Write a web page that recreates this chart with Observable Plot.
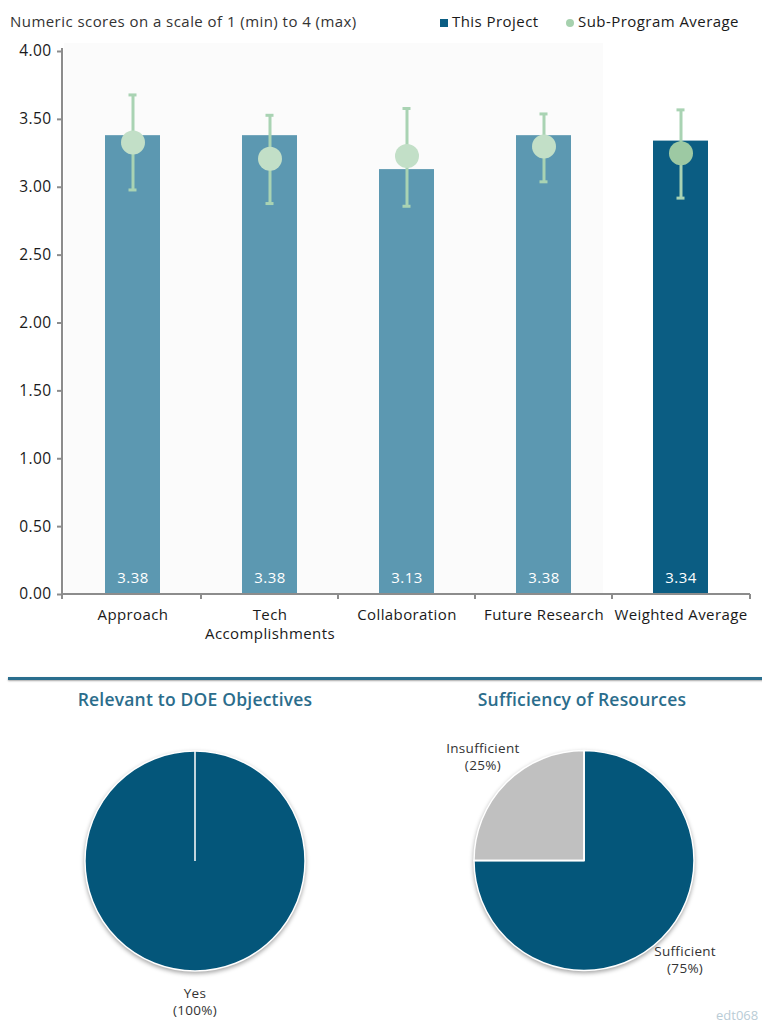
<!DOCTYPE html>
<html><head><meta charset="utf-8">
<script src="https://cdn.jsdelivr.net/npm/d3@7"></script>
<script src="https://cdn.jsdelivr.net/npm/@observablehq/plot@0.6"></script>
<style>
body{margin:0;background:#fff;font-family:"Open Sans",sans-serif;}
#page{position:relative;width:762px;height:1028px;overflow:hidden;background:#fff;}
.abs{position:absolute;white-space:nowrap;}
.ptitle{font-size:17.5px;font-weight:600;color:#2b6d8c;transform:translateX(-50%);letter-spacing:0.2px;}
</style></head><body><div id="page"></div>
<script>
// ---- data ----
const categories = ["Approach", "Tech Accomplishments", "Collaboration", "Future Research", "Weighted Average"];
const categoryAxisLabels = ["Approach", "Tech\nAccomplishments", "Collaboration", "Future Research", "Weighted Average"];
const projectScores = [3.38, 3.38, 3.13, 3.38, 3.34];
const subProgramAverage = [3.33, 3.21, 3.23, 3.30, 3.25];
const subProgramMin = [2.98, 2.88, 2.86, 3.04, 2.92];
const subProgramMax = [3.68, 3.53, 3.58, 3.54, 3.57];
const yTicks = [0, 0.5, 1, 1.5, 2, 2.5, 3, 3.5, 4];
const relevanceLabels = ["Yes"];
const relevanceValues = [100];
const sufficiencyLabels = ["Sufficient", "Insufficient"];
const sufficiencyValues = [75, 25];

const page = document.getElementById("page");
const FONT = "Open Sans, sans-serif";

const rows = categories.map((c, i) => ({
  category: c, score: projectScores[i], avg: subProgramAverage[i],
  lo: subProgramMin[i], hi: subProgramMax[i], weighted: c === "Weighted Average"
}));

function bandEdges(scales, dims) {
  const sx = scales.x;
  const bw = typeof sx.bandwidth === "function" ? sx.bandwidth() : 0;
  const x0 = dims.marginLeft, x1 = dims.width - dims.marginRight;
  const edges = [x0];
  for (let i = 1; i < categories.length; i++) edges.push((sx(categories[i - 1]) + bw + sx(categories[i])) / 2);
  edges.push(x1);
  return edges;
}
// subtle plot-area background
function axisFrame(index, scales, values, dims) {
  const sy = scales.y;
  const edges = bandEdges(scales, dims);
  const x0 = dims.marginLeft, yb = sy(0), yt = sy(4);
  const g = d3.create("svg:g");
  g.append("rect").attr("x", x0 + 2).attr("y", yt - 8)
    .attr("width", edges[edges.length - 2] - 9 - x0 - 2).attr("height", yb - yt + 8)
    .attr("fill", "#fbfbfb");
  return g.node();
}
// axis lines and category boundary ticks
function axisLines(index, scales, values, dims) {
  const sy = scales.y;
  const edges = bandEdges(scales, dims);
  const x0 = dims.marginLeft, x1 = dims.width - dims.marginRight;
  const yb = sy(0), yt = sy(4);
  const g = d3.create("svg:g").attr("stroke", "#8c8c8c").attr("stroke-width", 2);
  g.append("line").attr("x1", x0).attr("x2", x0).attr("y1", yt - 3).attr("y2", yb);
  g.append("line").attr("x1", x0 - 1).attr("x2", x1).attr("y1", yb).attr("y2", yb);
  for (const e of edges) g.append("line").attr("x1", e).attr("x2", e).attr("y1", yb).attr("y2", yb + 5);
  return g.node();
}

const barChart = Plot.plot({
  width: 762, height: 650,
  marginTop: 51, marginBottom: 56, marginLeft: 62, marginRight: 12,
  style: {fontFamily: FONT, fontSize: "14px", color: "#1a1a1a", background: "transparent", letterSpacing: "0.4px"},
  x: {domain: categories, paddingInner: 0.6, paddingOuter: 0.3, axis: null},
  y: {domain: [0, 4], axis: null},
  marks: [
    axisFrame,
    Plot.barY(rows, {x: "category", y: "score", fill: d => d.weighted ? "#0b5d83" : "#5c98b1"}),
    Plot.ruleX(rows, {x: "category", y1: "lo", y2: "hi", stroke: "#a9d3b3", strokeWidth: 3}),
    Plot.tickY(rows, {x: "category", y: "hi", stroke: "#a9d3b3", strokeWidth: 3, insetLeft: 23.5, insetRight: 23.5}),
    Plot.tickY(rows, {x: "category", y: "lo", stroke: "#a9d3b3", strokeWidth: 3, insetLeft: 23.5, insetRight: 23.5}),
    Plot.dot(rows, {x: "category", y: "avg", r: 12, fill: d => d.weighted ? "#9dc9a3" : "#c2dfc7", stroke: "none"}),
    Plot.text(rows, {x: "category", y: 0, dy: -16, text: d => d3.format(".2f")(d.score), fill: "white", fontSize: 15}),
    axisLines,
    Plot.axisY(yTicks, {tickFormat: d3.format(".2f"), tickSize: 5, tickPadding: 6, stroke: "#8c8c8c", strokeWidth: 2, fontSize: 15.5, fill: "#1a1a1a", label: null}),
    Plot.axisX({tickSize: 0, tickPadding: 12, fontSize: 15, fill: "#1a1a1a", lineHeight: 1.25, label: null,
      tickFormat: d => categoryAxisLabels[categories.indexOf(d)]})
  ]
});
barChart.style.position = "absolute";
barChart.style.left = "0px";
barChart.style.top = "0px";
page.appendChild(barChart);

// title + legend
function addDiv(html, css) {
  const d = document.createElement("div");
  d.className = "abs";
  d.innerHTML = html;
  Object.assign(d.style, css);
  page.appendChild(d);
  return d;
}
const txt = {fontSize: "15px", color: "#1a1a1a", letterSpacing: "0.45px"};
addDiv("Numeric scores on a scale of 1 (min) to 4 (max)", Object.assign({left: "10px", top: "11px"}, txt, {color: "#333"}));
addDiv("", {left: "440px", top: "19px", width: "8px", height: "8px", background: "#0b5d83"});
addDiv("This Project", Object.assign({left: "452px", top: "11px"}, txt));
addDiv("", {left: "566px", top: "19px", width: "8px", height: "8px", borderRadius: "50%", background: "#a6d1ae"});
addDiv("Sub-Program Average", Object.assign({left: "578px", top: "11px"}, txt));

// separator and pie titles
addDiv("", {left: "8px", top: "677px", width: "760px", height: "3px", background: "#2a6e8e", boxShadow: "0 1px 2px rgba(0,0,0,0.35)"});
addDiv("Relevant to DOE Objectives", {left: "195px", top: "687px"}).classList.add("ptitle");
addDiv("Sufficiency of Resources", {left: "582px", top: "687px"}).classList.add("ptitle");

// pies
function piePlot(labels, values, colors, cy, R) {
  const data = labels.map((l, i) => ({label: l, value: values[i]}));
  function pieMark(index, scales, vals, dims) {
    const cx = dims.width / 2;
    const color = scales.color || (l => colors[labels.indexOf(l)]);
    const arcs = d3.pie().sort(null).value(d => d.value)(data);
    const arc = d3.arc().innerRadius(0).outerRadius(R);
    const g = d3.create("svg:g");
    const s = g.append("g").attr("transform", `translate(${cx},${cy})`)
      .style("filter", "drop-shadow(0px 2px 2px rgba(0,0,0,0.35))");
    s.selectAll("path").data(arcs).join("path")
      .attr("d", arc).attr("fill", d => color(d.data.label))
      .attr("stroke", "white").attr("stroke-width", 1.5);
    const r = g.append("g").attr("transform", `translate(${cx},${cy})`);
    for (const a of arcs) {
      r.append("line").attr("x1", 0).attr("y1", 0)
        .attr("x2", R * Math.sin(a.startAngle)).attr("y2", -R * Math.cos(a.startAngle))
        .attr("stroke", "white").attr("stroke-width", 1.5);
    }
    const labelArc = d3.arc().innerRadius(R * 1.3).outerRadius(R * 1.3);
    const t = g.append("g").attr("transform", `translate(${cx},${cy})`)
      .attr("font-family", FONT).attr("font-size", 13.5).attr("fill", "#333")
      .attr("text-anchor", "middle").style("letter-spacing", "0.3px");
    for (const a of arcs) {
      const [lx, ly] = labelArc.centroid(a);
      const pct = Math.round(100 * a.data.value / d3.sum(values));
      t.append("text").attr("x", lx).attr("y", ly - 6).text(a.data.label);
      t.append("text").attr("x", lx).attr("y", ly + 11).text(`(${pct}%)`);
    }
    return g.node();
  }
  return Plot.plot({
    width: 380, height: 348, margin: 0,
    style: {background: "transparent", overflow: "visible"},
    x: {axis: null}, y: {axis: null},
    color: {domain: labels, range: colors},
    marks: [
      Plot.dot(data, {fill: "label", r: 0}),
      pieMark
    ]
  });
}
const pie1 = piePlot(relevanceLabels, relevanceValues, ["#04567a"], 181, 110);
Object.assign(pie1.style, {position: "absolute", left: "5px", top: "680px"});
page.appendChild(pie1);
const pie2 = piePlot(sufficiencyLabels, sufficiencyValues, ["#04567a", "#c0c0c0"], 180.5, 110);
Object.assign(pie2.style, {position: "absolute", left: "394px", top: "680px"});
page.appendChild(pie2);

addDiv("edt068", {left: "716px", top: "1006px", fontSize: "13px", color: "#b9ccd6"});
</script></body></html>
